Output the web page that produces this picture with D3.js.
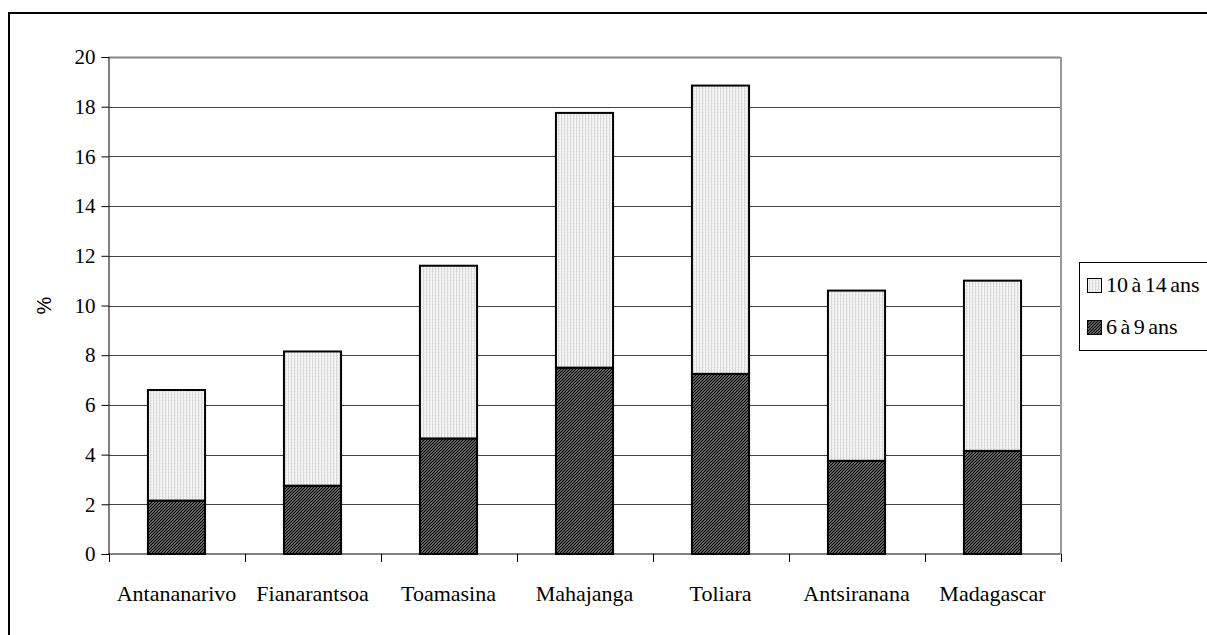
<!DOCTYPE html>
<html><head><meta charset="utf-8">
<script src="https://cdn.jsdelivr.net/npm/d3@7"></script>
<style>
html,body{margin:0;padding:0;background:#fff;}
svg{display:block;}
text{font-family:"Liberation Serif","Times New Roman",serif;fill:#000;}
</style></head>
<body>
<svg id="chart" width="1207" height="635"></svg>
<script>
const categories = ["Antananarivo","Fianarantsoa","Toamasina","Mahajanga","Toliara","Antsiranana","Madagascar"];
const age6to9 = [2.15, 2.75, 4.65, 7.5, 7.25, 3.75, 4.15];
const age10to14 = [4.45, 5.4, 6.95, 10.25, 11.6, 6.85, 6.85];
const seriesNames = ["6 à 9 ans", "10 à 14 ans"];
const yTicks = [0,2,4,6,8,10,12,14,16,18,20];
const yTitle = "%";

const svg = d3.select("#chart");
const W = 1207, H = 635;
const plot = {left:108.5, right:1060.5, top:57, bottom:554};

// patterns
const defs = svg.append("defs");
const pDark = defs.append("pattern").attr("id","pDark").attr("patternUnits","userSpaceOnUse")
  .attr("width",3).attr("height",3);
pDark.append("rect").attr("width",3).attr("height",3).attr("fill","#c8c8c8");
pDark.append("path").attr("d","M-1,1 L1,-1 M0,3 L3,0 M2,4 L4,2").attr("stroke","#000").attr("stroke-width",1.5);
const pLight = defs.append("pattern").attr("id","pLight").attr("patternUnits","userSpaceOnUse")
  .attr("width",3).attr("height",3);
pLight.append("rect").attr("width",3).attr("height",3).attr("fill","#f4f4f4");
pLight.append("rect").attr("x",0).attr("width",1).attr("height",3).attr("fill","#d8d8d8");
pLight.append("rect").attr("x",1).attr("y",1).attr("width",1).attr("height",1).attr("fill","#e4e4e4");

// outer frame
svg.append("rect").attr("x",9).attr("y",13).attr("width",W+20).attr("height",H+20)
  .attr("fill","none").attr("stroke","#000").attr("stroke-width",2);

const x = d3.scaleBand().domain(categories).range([plot.left, plot.right]).paddingInner(0.58).paddingOuter(0.29);
const y = d3.scaleLinear().domain([0,20]).range([plot.bottom, plot.top]);

// gridlines
svg.append("g").selectAll("line").data(yTicks.filter(d=>d>0)).join("line")
  .attr("x1",plot.left).attr("x2",plot.right)
  .attr("y1",d=>Math.round(y(d))+0.5).attr("y2",d=>Math.round(y(d))+0.5)
  .attr("stroke",d=>d===20?"#888":"#444").attr("stroke-width",d=>d===20?2:1);
// right plot border
svg.append("line").attr("x1",plot.right+0.5).attr("x2",plot.right+0.5).attr("y1",plot.top).attr("y2",plot.bottom)
  .attr("stroke","#999").attr("stroke-width",2);

// stacked bars
const rows = categories.map((c,i)=>({cat:c, a:age6to9[i], b:age10to14[i]}));
const stack = d3.stack().keys(["a","b"])(rows);
const fills = ["url(#pDark)","url(#pLight)"];
svg.append("g").selectAll("g").data(stack).join("g")
  .attr("fill",(d,i)=>fills[i])
  .selectAll("rect").data(d=>d).join("rect")
  .attr("x",d=>x(d.data.cat)).attr("width",x.bandwidth())
  .attr("y",d=>y(d[1])).attr("height",d=>y(d[0])-y(d[1]))
  .attr("stroke","#000").attr("stroke-width",2);

// y axis
const yAxis = d3.axisLeft(y).tickValues(yTicks).tickSize(7).tickPadding(6);
const gy = svg.append("g").attr("transform",`translate(${plot.left},0)`).call(yAxis);
gy.attr("font-family",null);
gy.select(".domain").attr("stroke","#000");
gy.selectAll("text").attr("font-size",21);

// x axis
const gx = svg.append("g").attr("transform",`translate(0,${plot.bottom})`)
  .call(d3.axisBottom(x).tickSize(0).tickPadding(31));
gx.attr("font-family",null);
gx.select(".domain").attr("d",`M${plot.left},0H${plot.right}`).attr("stroke","#000");
gx.selectAll("text").attr("font-size",22);
// boundary ticks
const edges = d3.range(categories.length+1).map(i=>plot.left + i*(plot.right-plot.left)/categories.length);
svg.append("g").selectAll("line").data(edges).join("line")
  .attr("x1",d=>Math.round(d)+0.5).attr("x2",d=>Math.round(d)+0.5)
  .attr("y1",plot.bottom).attr("y2",plot.bottom+8).attr("stroke","#000");

// y title
svg.append("text").attr("transform",`translate(51,${(plot.top+plot.bottom)/2}) rotate(-90)`)
  .attr("text-anchor","middle").attr("font-size",20)
  .style("font-family","'Liberation Sans',Arial,sans-serif").text(yTitle);

// legend
const lg = svg.append("g");
lg.append("rect").attr("x",1079.5).attr("y",262.5).attr("width",140).attr("height",88)
  .attr("fill","#fff").attr("stroke","#000").attr("stroke-width",1);
const legendItems = [{name:seriesNames[1], fill:fills[1]},{name:seriesNames[0], fill:fills[0]}];
legendItems.forEach((d,i)=>{
  const yy = 278 + i*42;
  lg.append("rect").attr("x",1087.5).attr("y",yy+0.5).attr("width",14).attr("height",14)
    .attr("fill",d.fill).attr("stroke","#000").attr("stroke-width",1);
  lg.append("text").attr("x",1106).attr("y",yy+14).attr("font-size",22)
    .attr("word-spacing",-2).text(d.name);
});
</script>
</body></html>
